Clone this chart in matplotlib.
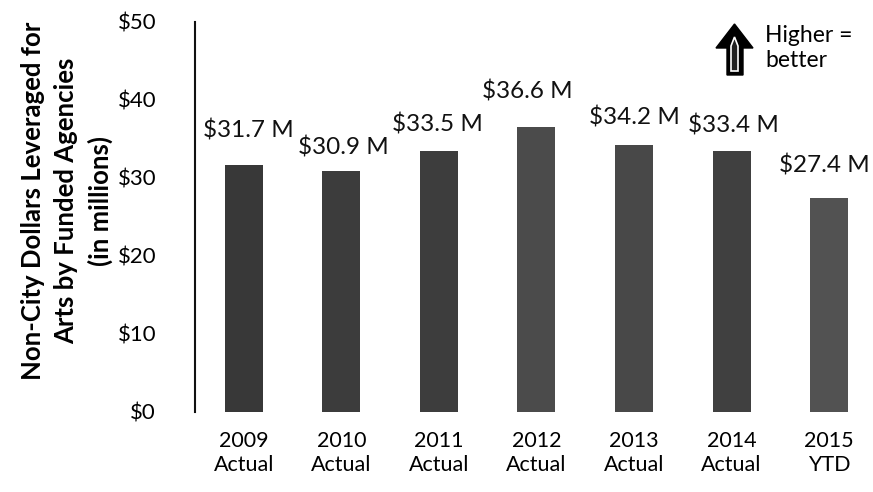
import matplotlib
matplotlib.use("Agg")
import matplotlib.pyplot as plt
from matplotlib.patches import Polygon

plt.rcParams['font.family'] = ['Lato', 'DejaVu Sans']

categories = ["2009\nActual", "2010\nActual", "2011\nActual", "2012\nActual",
              "2013\nActual", "2014\nActual", "2015\nYTD"]
values = [31.7, 30.9, 33.5, 36.6, 34.2, 33.4, 27.4]
value_labels = ["$31.7 M", "$30.9 M", "$33.5 M", "$36.6 M", "$34.2 M", "$33.4 M", "$27.4 M"]
yticks = [0, 10, 20, 30, 40, 50]
ytick_labels = ["$0", "$10", "$20", "$30", "$40", "$50"]

# style-only: label offsets in pixels (dx, dy) as placed in reference
label_offsets = [(5, 34), (2, 23), (-1, 26), (-9, 35), (0, 28), (2, 26), (-5, 33)]
bar_colors = ["#383838", "#3c3c3c", "#3d3d3d", "#4b4b4b", "#484848", "#404040", "#525252"]

W, H = 873, 492
fig = plt.figure(figsize=(W / 100, H / 100), dpi=100)
ax = fig.add_axes([195 / W, 1 - 412 / H, (W - 195) / W, (412 - 22) / H])

x = list(range(len(categories)))
ax.bar(x, values, width=0.39, color=bar_colors)
ax.set_xlim(-0.5, 6.45)
ax.set_ylim(0, 50)

for i, (v, lab) in enumerate(zip(values, value_labels)):
    dx, dy = label_offsets[i]
    ax.annotate(lab, (i, v), xytext=(dx, dy), textcoords='offset pixels',
                ha='center', va='center', fontsize=17.5, color='#111111')

ax.set_yticks(yticks)
ax.set_yticklabels(ytick_labels, fontsize=16)
ax.set_xticks(x)
ax.set_xticklabels(categories, fontsize=15.5, linespacing=1.25)
ax.tick_params(axis='y', length=0, pad=28)
ax.tick_params(axis='x', length=0, pad=14)
for s in ['top', 'right', 'bottom']:
    ax.spines[s].set_visible(False)
ax.spines['left'].set_linewidth(1.5)
ax.spines['left'].set_color('#111111')

fig.text(67 / W, 1 - 201 / H,
         "Non-City Dollars Leveraged for\nArts by Funded Agencies\n(in millions)",
         rotation=90, ha='center', va='center', fontsize=18.5, fontweight='bold',
         multialignment='center', linespacing=1.45)

# "Higher = better" arrow (figure pixel coords converted)
def fx(px):
    return px / W

def fy(py):
    return 1 - py / H

outer = [(716, 48), (734.5, 24), (753, 48), (743, 48), (743, 75), (727, 75), (727, 48)]
fig.patches.append(Polygon([(fx(a), fy(b)) for a, b in outer], closed=True,
                           transform=fig.transFigure, facecolor='black',
                           edgecolor='black', lw=1))
inner = [(731, 46), (734.5, 37), (738, 46), (738, 71), (731, 71)]
fig.patches.append(Polygon([(fx(a), fy(b)) for a, b in inner], closed=True,
                           transform=fig.transFigure, facecolor='#222222',
                           edgecolor='white', lw=1.2))
fig.text(fx(765), fy(48), "Higher =\nbetter", ha='left', va='center', fontsize=16.5,
         linespacing=1.2)

fig.savefig("out.png", dpi=100)
